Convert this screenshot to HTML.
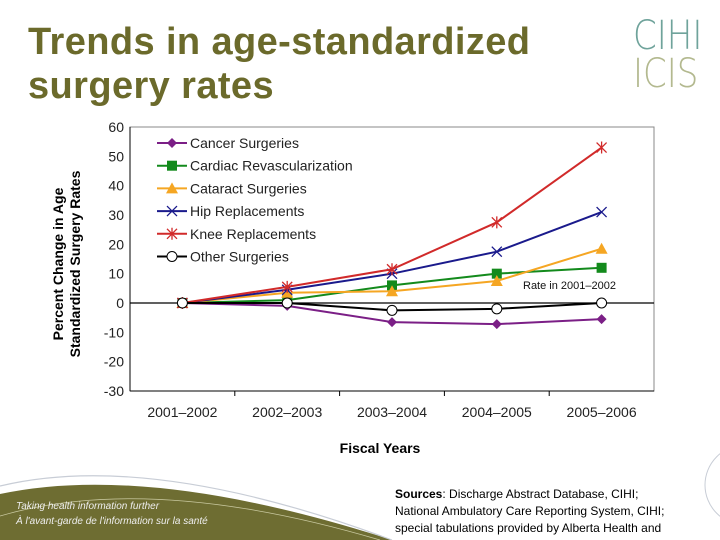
<!DOCTYPE html>
<html><head><meta charset="utf-8"><style>
body{margin:0;width:720px;height:540px;overflow:hidden;background:#fff;font-family:"Liberation Sans",sans-serif;position:relative}
.t{position:absolute;left:28px;top:20px;font-size:38px;font-weight:bold;color:#6b6a2b;line-height:44px;letter-spacing:0.4px}
</style></head><body>
<div class="t">Trends in age-standardized<br>surgery rates</div>
<div style="position:absolute;left:633px;top:17px;font-size:40px;line-height:38px;font-family:'DejaVu Sans',sans-serif;font-weight:200;transform:scaleX(0.85);transform-origin:left top">
<div style="color:#6fa39b">CIHI</div><div style="color:#b3b98f">ICIS</div></div>
<svg id="c" width="720" height="540" style="position:absolute;left:0;top:0">
<path d="M0,494 Q150,462 392,540 L0,540 Z" fill="#6e6d32"/>
<path d="M0,486 Q150,450 392,540" stroke="#c8cdd6" stroke-width="1.2" fill="none"/>
<path d="M0,516 Q150,472 380,540" stroke="#c9c9a0" stroke-width="0.8" fill="none"/>
<circle cx="745" cy="485" r="40" fill="none" stroke="#c8cdd6"/>
<text x="16" y="509" font-size="10" font-style="italic" fill="#eee">Taking health information further</text>
<text x="16" y="524" font-size="10" font-style="italic" fill="#eee">À l'avant-garde de l'information sur la santé</text>
<g font-size="12" fill="#000">
<text x="395" y="498"><tspan font-weight="bold">Sources</tspan>: Discharge Abstract Database, CIHI;</text>
<text x="395" y="515">National Ambulatory Care Reporting System, CIHI;</text>
<text x="395" y="532">special tabulations provided by Alberta Health and</text></g>
</svg>
<script>
const categories=["2001–2002","2002–2003","2003–2004","2004–2005","2005–2006"];
const yTicks=[60,50,40,30,20,10,0,-10,-20,-30];
const cancer=[0,-1,-6.5,-7.2,-5.5];
const cardiac=[0,1,6,10,12];
const cataract=[0,3.5,4,7.5,18.5];
const hip=[0,4.5,10,17.5,31];
const knee=[0,5.5,11.5,27.5,53];
const other=[0,0,-2.5,-2,0];
const seriesNames=["Cancer Surgeries","Cardiac Revascularization","Cataract Surgeries","Hip Replacements","Knee Replacements","Other Surgeries"];
const NS="http://www.w3.org/2000/svg",svg=document.getElementById('c');
const L=130,R=654,T=127,B=391,ymin=-30,ymax=60;
const y=v=>T+(ymax-v)/(ymax-ymin)*(B-T);
const bw=(R-L)/categories.length;
const x=i=>L+bw*(i+0.5);
function el(t,a,p){const e=document.createElementNS(NS,t);for(const k in a)e.setAttribute(k,a[k]);(p||svg).appendChild(e);return e;}
const ax=el('g',{});


el('rect',{x:L,y:T,width:R-L,height:B-T,fill:'none',stroke:'#888'},ax);
el('line',{x1:L,y1:T,x2:L,y2:B,stroke:'#000'},ax);
el('line',{x1:L,y1:B,x2:R,y2:B,stroke:'#000'},ax);
el('line',{x1:L,y1:y(0),x2:R,y2:y(0),stroke:'#000','stroke-width':1.3},ax);
yTicks.forEach(v=>{const t=el('text',{x:L-6,y:y(v)+5,'text-anchor':'end','font-size':14,fill:'#222'},ax);t.textContent=v;

});
categories.forEach((c,i)=>{if(i>0)el('line',{x1:L+bw*i,y1:B,x2:L+bw*i,y2:B+5,stroke:'#000'},ax);
const t=el('text',{x:x(i),y:B+26,'text-anchor':'middle','font-size':14,fill:'#222'},ax);t.textContent=c;

});
const xt=el('text',{x:380,y:453,'text-anchor':'middle','font-size':14,'font-weight':'bold'});xt.textContent='Fiscal Years';


const yt=el('text',{transform:'translate(63,264) rotate(-90)','text-anchor':'middle','font-size':14,'font-weight':'bold'});
yt.innerHTML='<tspan x="0" dy="0">Percent Change in Age</tspan><tspan x="0" dy="17">Standardized Surgery Rates</tspan>';


const rt=el('text',{x:523,y:289,'font-size':11,fill:'#111'});rt.textContent='Rate in 2001–2002';


function marker(g,type,cx,cy,col){
 if(type==='d')el('path',{d:`M${cx},${cy-5}L${cx+5},${cy}L${cx},${cy+5}L${cx-5},${cy}Z`,fill:col},g);
 else if(type==='s')el('rect',{x:cx-5,y:cy-5,width:10,height:10,fill:col},g);
 else if(type==='t')el('path',{d:`M${cx},${cy-6}L${cx+6},${cy+5}L${cx-6},${cy+5}Z`,fill:col},g);
 else if(type==='x')el('path',{d:`M${cx-5},${cy-5}L${cx+5},${cy+5}M${cx+5},${cy-5}L${cx-5},${cy+5}`,stroke:col,'stroke-width':1.3},g);
 else if(type==='a')el('path',{d:`M${cx-5},${cy-5}L${cx+5},${cy+5}M${cx+5},${cy-5}L${cx-5},${cy+5}M${cx},${cy-6}L${cx},${cy+6}`,stroke:col,'stroke-width':1.3},g);
 else el('circle',{cx,cy,r:5,fill:'#fff',stroke:'#000'},g);
}
const series=[[cancer,'#7b1f86','d','cancer'],[cardiac,'#138a1c','s','cardiac'],[cataract,'#f5a623','t','cataract'],[hip,'#1a1a8c','x','hip'],[knee,'#d12a2a','a','knee'],[other,'#000','o','other']];
series.forEach(([d,col,m,n],si)=>{
 const g=el('g',{});
 
 
 el('polyline',{points:d.map((v,i)=>x(i)+','+y(v)).join(' '),fill:'none',stroke:col,'stroke-width':2},g);
 d.forEach((v,i)=>marker(g,m,x(i),y(v),col));
 const lg=el('g',{});
 
 
 const ly=143+si*22.7;
 el('line',{x1:157,y1:ly,x2:187,y2:ly,stroke:col,'stroke-width':2},lg);
 marker(lg,m,172,ly,col);
 const t=el('text',{x:190,y:ly+5,'font-size':14,fill:'#222'},lg);t.textContent=seriesNames[si];
});
</script>
</body></html>
